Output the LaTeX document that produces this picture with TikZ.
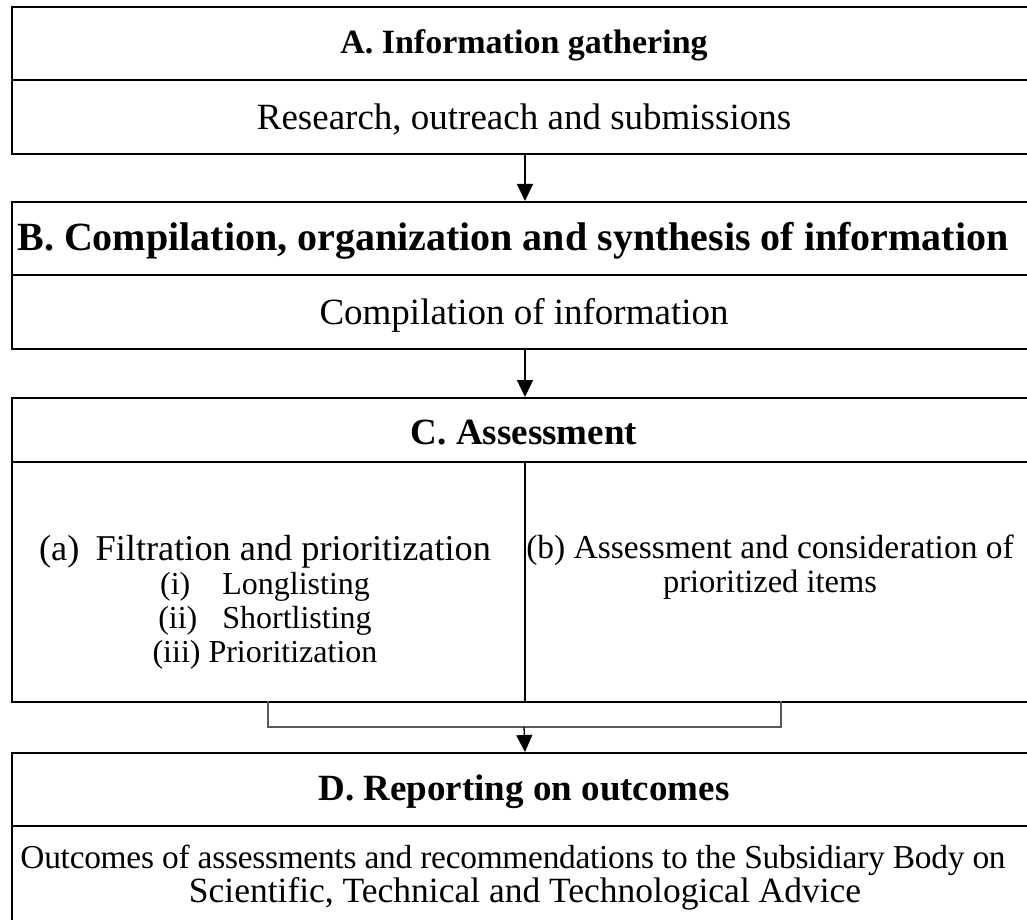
\documentclass[tikz,border=0pt]{standalone}
\usepackage{fontspec}
\setmainfont{Liberation Serif}
\usetikzlibrary{arrows.meta}
\begin{document}
\begin{tikzpicture}[x=1pt,y=-1pt,
  box/.style={draw=black,line width=2pt,rectangle,anchor=north west,inner sep=0pt},
  divline/.style={draw=black,line width=2pt},
  arr/.style={draw=black,line width=1.3pt,-{Triangle[width=16pt,length=17pt]}},
  bracketline/.style={draw=black!65,line width=1.2pt},
  txt/.style={font=\fontsize{37}{34}\selectfont,inner sep=0pt,align=center},
  ttl/.style={font=\fontsize{37}{34}\selectfont\bfseries,inner sep=0pt,align=center}]
\useasboundingbox (0,0) rectangle (1027,920);
\clip (0,0) rectangle (1027,920);
% Box A
\node[box,minimum width=1026pt,minimum height=147pt] (A) at (11,6) {};
\draw[divline] (A.west |- 0,80) -- (A.east |- 0,80);
\node[ttl,font=\fontsize{34}{34}\selectfont\bfseries] (At) at (524,45) {A. Information gathering};
\node[txt] (As) at (524,120) {Research, outreach and submissions};
% Box B
\node[box,minimum width=1026pt,minimum height=147pt] (B) at (11,201) {};
\draw[divline] (B.west |- 0,275) -- (B.east |- 0,275);
\node[ttl,font=\fontsize{40}{34}\selectfont\bfseries] (Bt) at (513,241) {B. Compilation, organization and synthesis of information};
\node[txt] (Bs) at (524,315) {Compilation of information};
% Box C
\node[box,minimum width=1026pt,minimum height=304pt] (C) at (11,397) {};
\draw[divline] (C.west |- 0,462) -- (C.east |- 0,462);
\draw[divline] (C.north |- 0,462) -- (C.south);
\node[ttl] (Ct) at (524,433) {C. Assessment};
\node[txt,anchor=north,font=\fontsize{36.3}{34}\selectfont] (Ca) at (265,535) {(a)\hspace{0.45em}Filtration and prioritization\\
{\fontsize{32}{34}\selectfont (i)\hspace{1em}Longlisting}\\
{\fontsize{32}{34}\selectfont (ii)\hspace{0.78em}Shortlisting}\\
{\fontsize{32}{34}\selectfont (iii) Prioritization}};
\node[txt,anchor=north,font=\fontsize{33.5}{34}\selectfont] (Cb) at (770,535) {(b) Assessment and consideration of\\ {\fontsize{32.5}{34}\selectfont prioritized items}};
% Bracket
\coordinate (bl) at (268,727);
\coordinate (br) at (781,727);
\coordinate (bm) at (524,727);
\draw[bracketline] (268,701) -- (bl) -- (br) -- (781,701);
% Box D
\node[box,minimum width=1026pt,minimum height=190pt] (D) at (11,752) {};
\draw[divline] (D.west |- 0,826) -- (D.east |- 0,826);
\node[ttl] (Dt) at (524,792) {D. Reporting on outcomes};
\node[txt,font=\fontsize{33.4}{34}\selectfont\addfontfeatures{LetterSpace=-0.8}] (Ds1) at (513,860) {Outcomes of assessments and recommendations to the Subsidiary Body on};
\node[txt,font=\fontsize{35.5}{34}\selectfont] (Ds2) at (525,894) {Scientific, Technical and Technological Advice};
% Arrows
\draw[arr] (A.south) -- (B.north);
\draw[arr] (B.south) -- (C.north);
\draw[arr] (bm) -- (D.north);
\end{tikzpicture}
\end{document}
